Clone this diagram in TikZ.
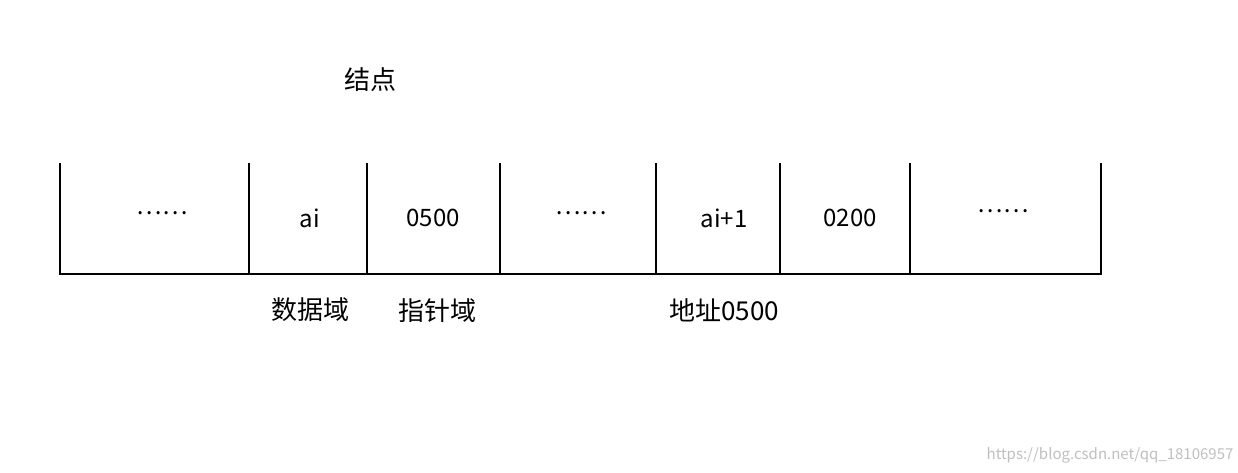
\documentclass[tikz,border=0pt]{standalone}
\usepackage{fontspec}
\setmainfont{Noto Sans CJK SC}
\begin{document}
\begin{tikzpicture}[x=1pt,y=-1pt,
  cell/.style={font=\fontsize{24}{28}\selectfont},
  lbl/.style={font=\fontsize{26}{30}\selectfont},
  ln/.style={line width=2.2pt}]
\useasboundingbox (0,0) rectangle (1238,472);
\foreach \x [count=\i] in {60,249,367,500,656,780,910,1101}
  \draw[ln] (\x,163) -- (\x,275);
\coordinate (bl) at (59,274);
\coordinate (br) at (1102,274);
\draw[ln] (bl) -- (br);
\node[cell] (c1) at (162,213) {……};
\node[cell] (c2) at (310,218) {ai};
\node[cell] (c3) at (433,218) {0500};
\node[cell] (c4) at (581,213) {……};
\node[cell] (c5) at (724,218) {ai+1};
\node[cell] (c6) at (850,218) {0200};
\node[cell] (c7) at (1003,211) {……};
\node[lbl] (t0) at (370,80) {结点};
\node[lbl] (t1) at (310,310) {数据域};
\node[lbl] (t2) at (437,311) {指针域};
\node[lbl] (t3) at (724,310) {地址0500};
\node[text=black!25,font=\fontsize{15}{18}\selectfont] (wm) at (1110,455) {https://blog.csdn.net/qq\_18106957};
\end{tikzpicture}
\end{document}
